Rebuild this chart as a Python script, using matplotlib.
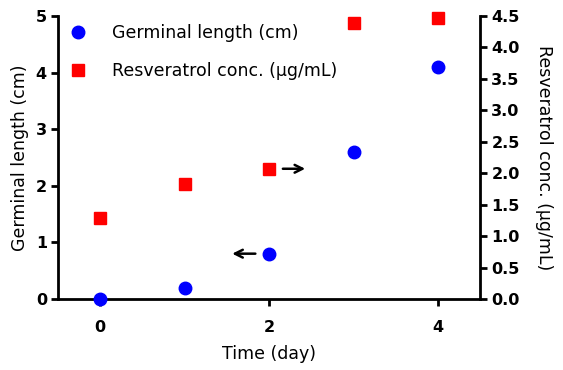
import matplotlib.pyplot as plt

plt.rcParams.update({
    'font.family': ['DejaVu Sans'],
    'axes.linewidth': 2,
})

days = [0, 1, 2, 3, 4]
germ_len = [0.0, 0.2, 0.8, 2.6, 4.1]
resv_conc = [1.29, 1.83, 2.07, 4.39, 4.47]

fig = plt.figure(figsize=(5.63, 3.70), dpi=100)
ax = fig.add_axes([0.103, 0.192, 0.750, 0.765])
ax2 = ax.twinx()

h1, = ax.plot(days, germ_len, 'o', color='#0000ff', markersize=9, linestyle='none',
              label='Germinal length (cm)', clip_on=False, zorder=5)
h2, = ax2.plot(days, resv_conc, 's', color='#ff0000', markersize=8.5, linestyle='none',
               label='Resveratrol conc. (μg/mL)', clip_on=False, zorder=5)

ax.set_xlim(-0.5, 4.5)
ax.set_ylim(0, 5)
ax2.set_ylim(0, 4.5)
ax.set_xticks([0, 2, 4])
ax.set_yticks(range(6))
ax2.set_yticks([i * 0.5 for i in range(10)])
ax2.set_yticklabels([f'{i * 0.5:.1f}' for i in range(10)])

for a in (ax, ax2):
    a.spines['top'].set_visible(False)
    a.tick_params(width=2, length=5, labelsize=11.5, direction='out', pad=3)
    for lab in a.get_xticklabels() + a.get_yticklabels():
        lab.set_fontweight('bold')
ax.tick_params(axis='x', pad=10)
ax.spines['right'].set_visible(False)
ax2.spines['left'].set_visible(False)
ax2.spines['bottom'].set_visible(False)

ax.set_xlabel('Time (day)', fontsize=12.5, labelpad=7)
ax.set_ylabel('Germinal length (cm)', fontsize=12.5, labelpad=5)
ax2.set_ylabel('Resveratrol conc. (μg/mL)', fontsize=12.5, rotation=270, labelpad=24)

ax2.legend(handles=[h1, h2], loc='upper left', frameon=False, fontsize=12.5,
           bbox_to_anchor=(-0.03, 1.025), handletextpad=0.95, labelspacing=1.15,
           borderaxespad=0.5)

ax.annotate('', xy=(1.53, germ_len[2]), xytext=(1.87, germ_len[2]),
            arrowprops=dict(arrowstyle='->', color='black', lw=1.8, mutation_scale=14))
ax2.annotate('', xy=(2.46, resv_conc[2]), xytext=(2.13, resv_conc[2]),
             arrowprops=dict(arrowstyle='->', color='black', lw=1.8, mutation_scale=14))

fig.savefig('out.png', dpi=100)
